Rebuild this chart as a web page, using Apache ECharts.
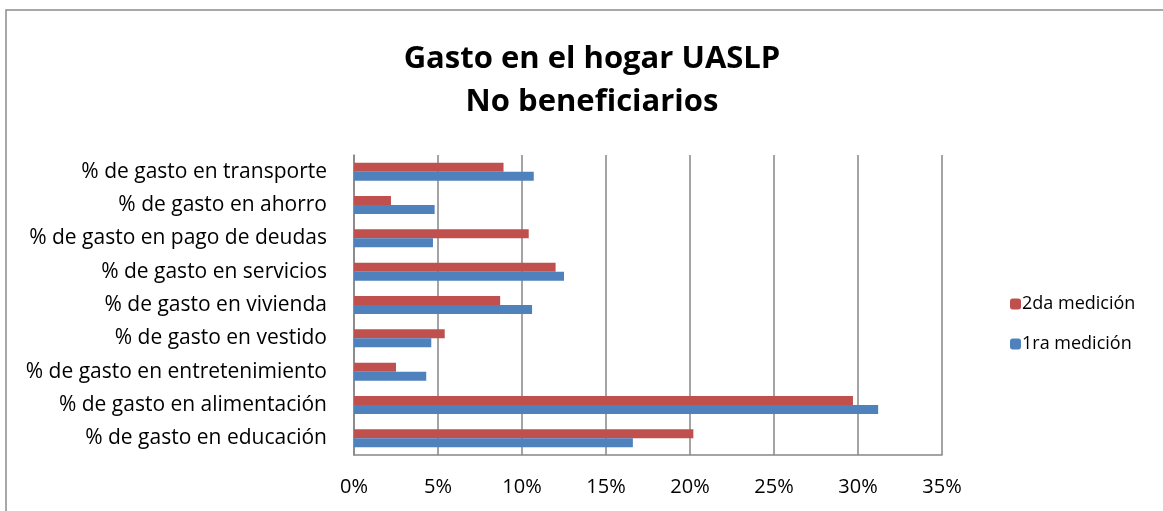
<!DOCTYPE html>
<html>
<head>
<meta charset="utf-8">
<script src="https://cdn.jsdelivr.net/npm/echarts@6/dist/echarts.min.js"></script>
<style>
  html, body { margin: 0; padding: 0; background: #fff; }
  #main { width: 1163px; height: 511px; }
</style>
</head>
<body>
<div id="main"></div>
<script>
    "use strict";

    // Data
    var categories = [
        '% de gasto en educación',
        '% de gasto en alimentación',
        '% de gasto en entretenimiento',
        '% de gasto en vestido',
        '% de gasto en vivienda',
        '% de gasto en servicios',
        '% de gasto en pago de deudas',
        '% de gasto en ahorro',
        '% de gasto en transporte'
    ];
    var primeraMedicion = [16.6, 31.2, 4.3, 4.6, 10.6, 12.5, 4.7, 4.8, 10.7];
    var segundaMedicion = [20.2, 29.7, 2.5, 5.4, 8.7, 12.0, 10.4, 2.2, 8.9];
    var xTicks = [0, 5, 10, 15, 20, 25, 30, 35];

    var fontFam = '"Open Sans", "Noto Sans", sans-serif';

    var chart = echarts.init(document.getElementById('main'));
    var option = {
        animation: false,
        backgroundColor: '#fff',
        title: {
            text: 'Gasto en el hogar UASLP\nNo beneficiarios',
            left: 587,
            textAlign: 'center',
            top: 33,
            textStyle: {
                fontFamily: fontFam,
                fontSize: 31,
                fontWeight: 'bold',
                color: '#000',
                lineHeight: 43
            }
        },
        // border of the chart area
        graphic: [{
            type: 'rect',
            shape: { x: 6, y: 10, width: 1200, height: 600 },
            style: { fill: 'none', stroke: '#8c8c8c', lineWidth: 1.5 },
            silent: true
        }],
        legend: {
            orient: 'vertical',
            left: 1005,
            top: 290,
            itemWidth: 11,
            itemHeight: 11,
            itemGap: 22,
            data: ['2da medición', '1ra medición'],
            textStyle: { fontFamily: fontFam, fontSize: 18, color: '#000', padding: [0, 0, 0, -4] }
        },
        grid: {
            left: 354,
            top: 155,
            width: 588,
            height: 300,
            containLabel: false
        },
        xAxis: {
            type: 'value',
            min: 0,
            max: 35,
            interval: 5,
            axisLine: { show: true, lineStyle: { color: '#868686', width: 1.5 } },
            axisTick: { show: false },
            splitLine: { show: true, lineStyle: { color: '#868686', width: 1.5 } },
            axisLabel: {
                margin: 22,
                fontFamily: fontFam,
                fontSize: 20,
                color: '#000',
                formatter: function (v) {
                    return xTicks.indexOf(v) >= 0 ? v + '%' : '';
                }
            }
        },
        yAxis: {
            type: 'category',
            data: categories,
            axisLine: { show: true, lineStyle: { color: '#868686', width: 1.5 } },
            axisTick: { show: false },
            axisLabel: {
                margin: 27,
                fontFamily: fontFam,
                fontSize: 21,
                color: '#000'
            }
        },
        // 2da medición first so it sits above 1ra medición in each group
        series: [{
            name: '2da medición',
            type: 'bar',
            data: segundaMedicion,
            barWidth: 9,
            barGap: '0%',
            itemStyle: { color: '#c0504d' }
        }, {
            name: '1ra medición',
            type: 'bar',
            data: primeraMedicion,
            barWidth: 9,
            barGap: '0%',
            itemStyle: { color: '#4f81bd' }
        }]
    };

    chart.setOption(option);
</script>
</body>
</html>
